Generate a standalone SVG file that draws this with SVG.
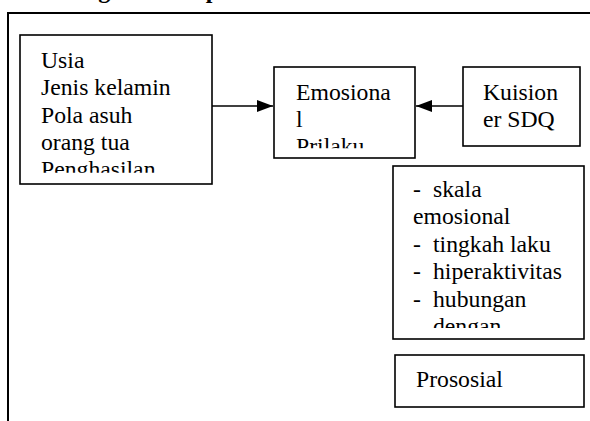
<svg xmlns="http://www.w3.org/2000/svg" width="590" height="421" viewBox="0 0 590 421">
<style>
.box{fill:#fff;stroke:#000;stroke-width:1.6}
.t{font-family:"Liberation Serif","Times New Roman",serif;font-size:23.7px;fill:#000}
.title{font-family:"Liberation Serif","Times New Roman",serif;font-size:24px;font-weight:bold;fill:#000}
.edge{stroke:#000;stroke-width:1.5;fill:none}
.frame{stroke:#000;stroke-width:2;fill:none}
</style>
<defs>
<marker id="ah" markerWidth="16" markerHeight="12" refX="16" refY="6" orient="auto" markerUnits="userSpaceOnUse">
<path d="M0,0 L16,6 L0,12 Z" fill="#000"/>
</marker>
<clipPath id="c1"><rect x="21" y="36" width="190" height="136.7"/></clipPath>
<clipPath id="c2"><rect x="275" y="68" width="139" height="80.3"/></clipPath>
<clipPath id="c4"><rect x="393" y="167" width="190" height="161"/></clipPath>
</defs>
<text class="title" x="33" y="-2">Kerangka Konsep</text>
<g id="frame">
<path class="frame" d="M8,421 L8,13 L592,13"/>
</g>
<g id="node-faktor">
<rect class="box" x="20" y="35" width="192" height="149"/>
<g clip-path="url(#c1)">
<text class="t" x="41" y="68">Usia</text>
<text class="t" x="41" y="95.3">Jenis kelamin</text>
<text class="t" x="41" y="122.6">Pola asuh</text>
<text class="t" x="41" y="150">orang tua</text>
<text class="t" x="41" y="177.3">Penghasilan</text>
</g>
</g>
<g id="node-emosional">
<rect class="box" x="274" y="67" width="141" height="91"/>
<g clip-path="url(#c2)">
<text class="t" x="296" y="100">Emosiona</text>
<text class="t" x="296" y="126.7">l</text>
<text class="t" x="296" y="153.5">Prilaku</text>
</g>
</g>
<g id="node-kuisioner">
<rect class="box" x="463" y="67" width="117" height="79"/>
<text class="t" x="483" y="100">Kuision</text>
<text class="t" x="483" y="126.7">er SDQ</text>
</g>
<g id="node-skala">
<rect class="box" x="393" y="166" width="191" height="173"/>
<g clip-path="url(#c4)">
<text class="t" x="413" y="196.5">-</text><text class="t" x="433" y="196.5">skala</text>
<text class="t" x="413" y="224">emosional</text>
<text class="t" x="413" y="251.5">-</text><text class="t" x="433" y="251.5">tingkah laku</text>
<text class="t" x="413" y="279">-</text><text class="t" x="433" y="279">hiperaktivitas</text>
<text class="t" x="413" y="306.5">-</text><text class="t" x="433" y="306.5">hubungan</text>
<text class="t" x="433" y="334">dengan</text>
</g>
</g>
<g id="node-prososial">
<rect class="box" x="395" y="355" width="189" height="52"/>
<text class="t" x="416" y="386.7">Prososial</text>
</g>
<g id="connectors">
<line class="edge" x1="212" y1="106" x2="273" y2="106" marker-end="url(#ah)"/>
<line class="edge" x1="463" y1="106" x2="416" y2="106" marker-end="url(#ah)"/>
</g>
</svg>
